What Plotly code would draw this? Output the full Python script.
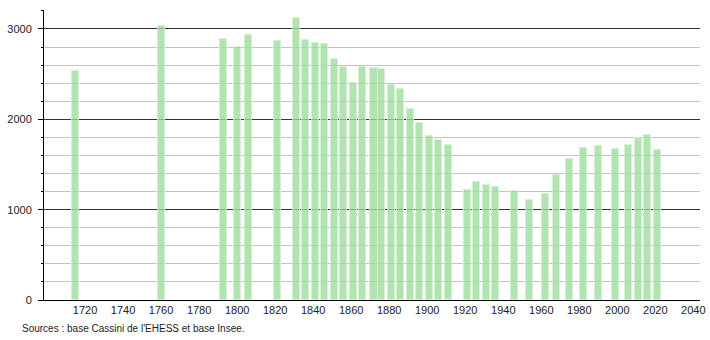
import plotly.graph_objects as go

years = [1715, 1760, 1793, 1800, 1806, 1821, 1831, 1836, 1841, 1846, 1851, 1856,
         1861, 1866, 1872, 1876, 1881, 1886, 1891, 1896, 1901, 1906, 1911, 1921,
         1926, 1931, 1936, 1946, 1954, 1962, 1968, 1975, 1982, 1990, 1999, 2006,
         2011, 2016, 2021]
population = [2540, 3030, 2890, 2800, 2935, 2867, 3118, 2882, 2845, 2834, 2669, 2580,
              2400, 2580, 2569, 2558, 2378, 2337, 2116, 1961, 1818, 1773, 1720, 1221,
              1302, 1276, 1254, 1210, 1110, 1177, 1379, 1563, 1688, 1707, 1671, 1711,
              1796, 1825, 1663]
x_ticks = [1720, 1740, 1760, 1780, 1800, 1820, 1840, 1860, 1880, 1900, 1920, 1940,
           1960, 1980, 2000, 2020, 2040]
y_ticks = [0, 1000, 2000, 3000]
source_text = "Sources : base Cassini de l'EHESS et base Insee."

fig = go.Figure()
fig.add_trace(go.Bar(
    x=years, y=population, width=3.7,
    marker=dict(color="rgba(155,220,155,0.78)",
                line=dict(color="rgba(210,242,210,0.9)", width=1)),
    hoverinfo="x+y",
))

font = dict(family="Liberation Sans, Arial, sans-serif", size=11, color="#222")

fig.update_layout(
    width=710, height=340,
    margin=dict(l=44, r=10, t=10, b=40, autoexpand=False),
    paper_bgcolor="white", plot_bgcolor="white",
    showlegend=False, font=font, bargap=0,
    xaxis=dict(range=[1698.4, 2043.5], tickmode="array", tickvals=x_ticks,
               ticktext=[str(t) for t in x_ticks], showgrid=False, zeroline=False,
               showline=True, linecolor="#000", linewidth=1, ticks="",
               ticklabelstandoff=0, tickfont=font, automargin=False),
    yaxis=dict(range=[0, 3210], tickmode="array", tickvals=y_ticks,
               ticktext=[str(t) for t in y_ticks], showgrid=True,
               gridcolor="#333", gridwidth=1, zeroline=False,
               showline=True, linecolor="#000", linewidth=1,
               ticks="outside", ticklen=5, tickcolor="#000", tickwidth=1,
               ticklabelstandoff=4, tickfont=font, automargin=False,
               minor=dict(dtick=200, tick0=0, showgrid=True, gridcolor="#c4c4c4",
                          gridwidth=1, ticks="outside", ticklen=2, tickcolor="#000")),
    annotations=[dict(text=source_text, xref="paper", yref="paper",
                      x=-24 / 656, y=-28.5 / 290, xanchor="left", yanchor="middle",
                      showarrow=False, font=dict(family="Liberation Sans, Arial, sans-serif",
                                                 size=10, color="#222"))],
)

fig.write_html("out.html")
